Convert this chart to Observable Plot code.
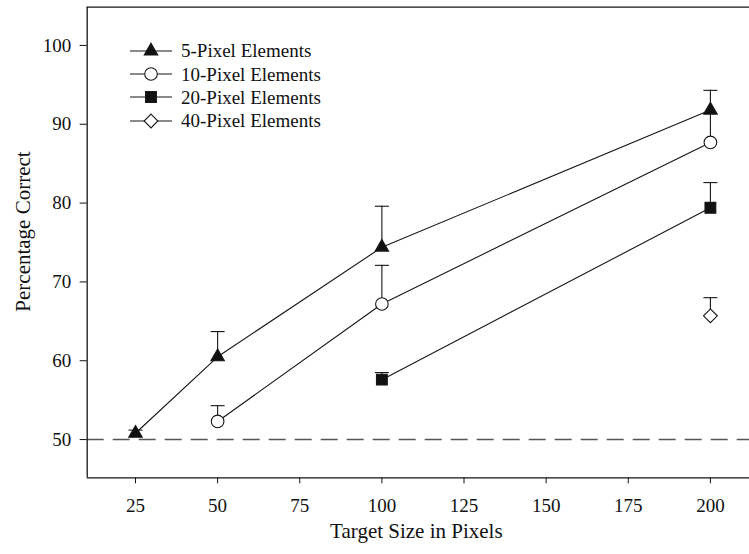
<!DOCTYPE html>
<html>
<head>
<meta charset="utf-8">
<script src="https://cdn.jsdelivr.net/npm/d3@7"></script>
<script src="https://cdn.jsdelivr.net/npm/@observablehq/plot@0.6"></script>
<style>
  html, body { margin: 0; padding: 0; background: #fff; }
  #wrap { position: relative; width: 749px; height: 554px; overflow: hidden; font-family: "Liberation Serif", "DejaVu Serif", serif; }
  #legend { position: absolute; left: 128px; top: 39px; }
  .row { display: flex; align-items: center; height: 23.4px; }
  .row svg { display: block; margin-right: 7px; }
  .row span { font-size: 19px; color: #111; line-height: 1; }
</style>
</head>
<body>
<div id="wrap"><div id="legend"></div></div>
<script>
// ---- data ----
const targetSizes = [25, 50, 100, 200];
const seriesNames = ["5-Pixel Elements", "10-Pixel Elements", "20-Pixel Elements", "40-Pixel Elements"];
const pct5  = [50.8, 60.5, 74.4, 91.8];
const hi5   = [51.2, 63.7, 79.6, 94.3];
const pct10 = [null, 52.3, 67.2, 87.7];
const hi10  = [null, 54.3, 72.1, 91.3];
const pct20 = [null, null, 57.6, 79.4];
const hi20  = [null, null, 58.5, 82.6];
const pct40 = [null, null, null, 65.7];
const hi40  = [null, null, null, 68.0];
const chanceLevel = [50];
const xTicks = [25, 50, 75, 100, 125, 150, 175, 200];
const yTicks = [50, 60, 70, 80, 90, 100];
const xDomain = [10.3, 211.9];
const yDomain = [45.15, 104.85];

// ---- styling per series ----
const symbols = ["triangle", "circle", "square", "diamond2"];
const fills = ["#111", "#fff", "#111", "#fff"];
const radii = [5.0, 6.3, 6.1, 6.2];
const d3Symbols = [d3.symbolTriangle, d3.symbolCircle, d3.symbolSquare, d3.symbolDiamond2];

const pctSeries = [pct5, pct10, pct20, pct40];
const hiSeries = [hi5, hi10, hi20, hi40];
const rows = [];
seriesNames.forEach((name, i) => {
  targetSizes.forEach((t, j) => {
    const v = pctSeries[i][j];
    if (v != null) rows.push({series: name, idx: i, size: t, pct: v, hi: hiSeries[i][j]});
  });
});

const capSymbol = { draw(ctx, size) { const w = Math.sqrt(size / Math.PI); ctx.moveTo(-w, 0); ctx.lineTo(w, 0); } };

const ink = "#161616";
const chart = Plot.plot({
  width: 749,
  height: 554,
  marginLeft: 86.7,
  marginRight: 0,
  marginTop: 6.7,
  marginBottom: 76.7,
  style: { fontFamily: "'Liberation Serif', 'DejaVu Serif', serif", fontSize: "19px", color: "#111", background: "#fff" },
  x: { domain: xDomain, ticks: xTicks, tickSize: 6, tickPadding: 15, label: null },
  y: { domain: yDomain, ticks: yTicks, tickSize: 7, tickPadding: 9, label: null },
  marks: [
    Plot.ruleY(chanceLevel, { stroke: "#555", strokeWidth: 1.6, strokeDasharray: "17,9" }),
    Plot.ruleX(rows, { x: "size", y1: "pct", y2: "hi", stroke: ink, strokeWidth: 1.1 }),
    Plot.dot(rows, { x: "size", y: "hi", symbol: () => capSymbol, r: 7, stroke: ink, strokeWidth: 1.1, fill: "none" }),
    Plot.line(rows, { x: "size", y: "pct", z: "series", stroke: ink, strokeWidth: 1.1 }),
    ...seriesNames.map((name, i) =>
      Plot.dot(rows.filter(d => d.idx === i), {
        x: "size", y: "pct", symbol: symbols[i], r: radii[i],
        fill: fills[i], stroke: ink, strokeWidth: 1.1
      })
    ),
    Plot.ruleX([xDomain[0]], { stroke: ink, strokeWidth: 1.3 }),
    Plot.ruleY(yDomain, { stroke: ink, strokeWidth: 1.3 }),
    Plot.text(["Target Size in Pixels"], { frameAnchor: "bottom", dx: -2, dy: 60, fontSize: 21, fill: "#111" }),
    Plot.text(["Percentage Correct"], { frameAnchor: "left", textAnchor: "middle", dx: -64.4, dy: -11, rotate: -90, fontSize: 21, fill: "#111" })
  ]
});
document.getElementById("wrap").prepend(chart);

// ---- legend (HTML overlay) ----
const legend = d3.select("#legend");
seriesNames.forEach((name, i) => {
  const row = legend.append("div").attr("class", "row");
  const svg = row.append("svg").attr("width", 46).attr("height", 18);
  svg.append("line").attr("x1", 2).attr("x2", 44).attr("y1", 9).attr("y2", 9)
    .attr("stroke", ink).attr("stroke-width", 1.1);
  svg.append("path")
    .attr("transform", "translate(23,9)")
    .attr("d", d3.symbol(d3Symbols[i], Math.PI * radii[i] * radii[i])())
    .attr("fill", fills[i]).attr("stroke", ink).attr("stroke-width", 1.1);
  row.append("span").text(name);
});
</script>
</body>
</html>
